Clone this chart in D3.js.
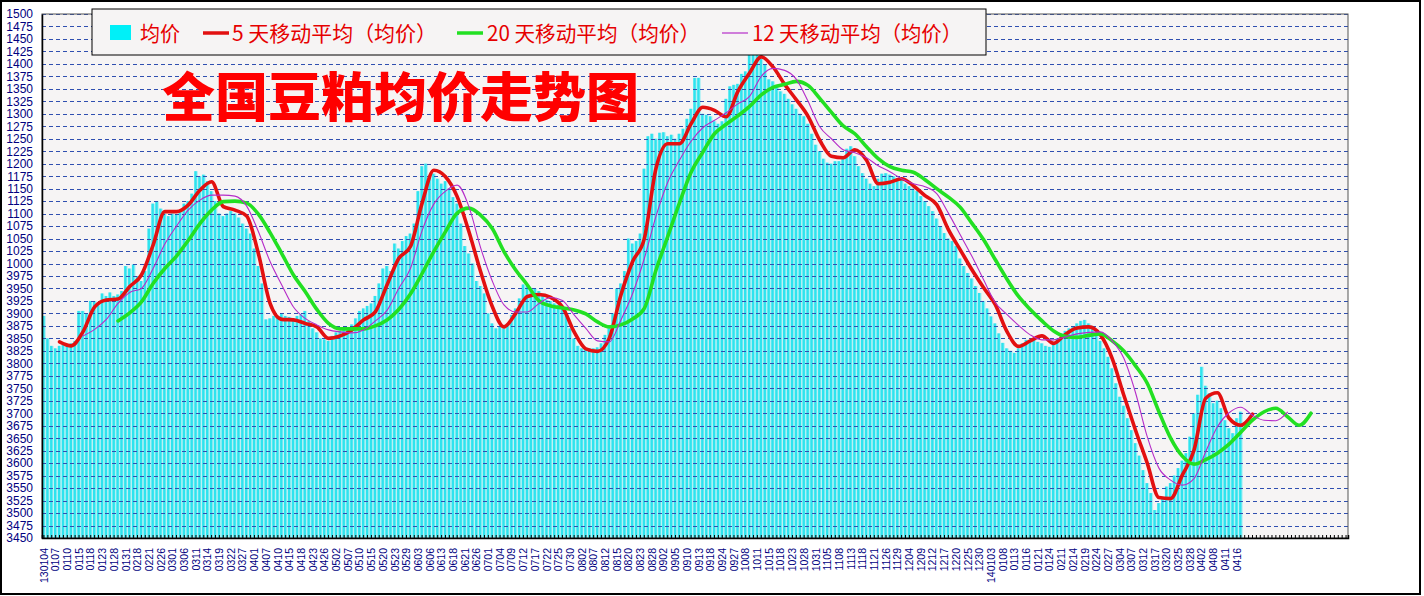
<!DOCTYPE html>
<html><head><meta charset="utf-8">
<script src="https://cdn.jsdelivr.net/npm/d3@7/dist/d3.min.js"></script>
<style>body{margin:0;background:#fff}svg{display:block}</style>
</head><body>
<svg id="c" width="1424" height="596"></svg>
<script>
// ---------- data ----------
const xLabels = ["130104","0107","0110","0115","0118","0123","0128","0131","0218","0221","0226","0301","0306","0311","0314","0319","0322","0327","0401","0407","0410","0415","0418","0423","0426","0502","0507","0510","0515","0520","0523","0529","0603","0606","0613","0618","0621","0626","0701","0704","0709","0712","0717","0722","0725","0730","0802","0807","0812","0815","0820","0823","0828","0902","0905","0910","0913","0918","0924","0927","1008","1011","1015","1018","1023","1028","1031","1105","1108","1113","1118","1121","1126","1129","1204","1209","1212","1217","1220","1225","1230","140103","0108","0113","0116","0121","0124","0211","0214","0219","0224","0227","0304","0307","0312","0317","0320","0325","0328","0402","0408","0411","0416"];

const avgPrice = [
3895,3850,3835, 3830,3835,3838, 3835,3840,3845, 3905,3905,3900, 3925,3925,3920,
3940,3935,3942, 3935,3938,3945, 3995,3990,3998, 3975,3965,3985, 4070,4120,4125,
4110,4100,4095, 4100,4098,4105, 4120,4125,4140, 4185,4175,4178, 4165,4145,4125,
4100,4095,4100, 4105,4100,4092, 4080,4070,4060, 4030,3995,3960, 3888,3890,3895,
3895,3900,3895, 3893,3890,3895, 3898,3905,3885, 3870,3862,3850, 3848,3845,3855,
3862,3865,3868, 3872,3878,3890, 3905,3910,3915, 3920,3935,3960, 3990,3995,3985,
4040,4030,4045, 4055,4060,4080, 4145,4195,4200, 4175,4180,4170, 4160,4165,4150,
4133,4120,4080, 4035,4020,4000, 3965,3955,3940, 3900,3880,3870, 3873,3870,3880,
3897,3910,3930, 3958,3955,3950, 3950,3945,3935, 3927,3925,3920, 3917,3915,3900,
3870,3850,3835, 3830,3828,3830, 3830,3832,3840, 3857,3870,3900, 3950,3960,3985,
4050,4040,4045, 4060,4190,4255, 4260,4250,4262, 4263,4255,4258, 4250,4260,4270,
4290,4310,4372, 4372,4300,4298, 4295,4285,4280, 4285,4330,4355, 4358,4360,4380,
4385,4418,4420, 4420,4410,4399, 4369,4365,4355, 4345,4340,4330, 4319,4310,4300,
4295,4280,4260, 4238,4225,4210, 4202,4200,4205, 4205,4215,4230, 4235,4215,4195,
4181,4170,4160, 4155,4170,4180, 4181,4178,4175, 4171,4168,4160, 4155,4150,4145,
4135,4125,4115, 4105,4090,4075, 4061,4050,4045, 4035,4010,3995, 3981,3970,3955,
3941,3925,3910, 3894,3880,3860, 3841,3830,3825, 3821,3830,3840, 3847,3845,3850,
3843,3840,3835, 3833,3840,3850, 3860,3865,3870, 3873,3880,3885, 3887,3880,3875,
3860,3845,3830, 3813,3790,3760, 3733,3715,3690, 3666,3640,3615, 3586,3560,3540,
3506,3520,3530, 3553,3560,3575, 3590,3605,3620, 3653,3700,3737, 3793,3755,3740,
3720,3725,3710, 3686,3670,3660, 3690,3703];

// moving averages read at every third category (categories 1, 4, 7, ...)
const ma5 = [null,3843,3835,3863,3913,3927,3929,3954,3977,4037,4104,4104,4117,4147,4164,4114,4107,4095,4020,3920,
3888,3887,3880,3873,3850,3855,3867,3887,3903,3957,4010,4034,4121,4187,4174,4134,4064,3984,3914,3873,
3900,3934,3938,3932,3913,3863,3829,3824,3850,3937,4004,4050,4191,4240,4240,4280,4313,4307,4294,4345,
4382,4414,4394,4359,4328,4295,4247,4215,4212,4228,4207,4160,4163,4170,4156,4136,4118,4068,4028,3988,
3952,3918,3864,3834,3845,3855,3840,3858,3871,3873,3857,3810,3736,3666,3600,3531,3529,3576,3626,3730,
3741,3690,3676,3698];
const ma20 = [null,null,null,null,null,null,3885,3901,3923,3960,3990,4015,4046,4080,4107,4124,4125,4121,4099,4062,
4020,3977,3944,3908,3880,3869,3869,3869,3875,3887,3908,3939,3980,4024,4064,4101,4111,4097,4070,4024,
3987,3957,3925,3915,3911,3907,3899,3883,3873,3877,3889,3910,3987,4054,4121,4183,4223,4260,4279,4296,
4315,4338,4353,4359,4365,4357,4331,4303,4276,4260,4234,4210,4194,4187,4183,4168,4150,4133,4113,4081,
4048,4008,3969,3934,3908,3885,3865,3854,3852,3856,3859,3845,3825,3795,3760,3703,3650,3614,3598,3607,
3620,3638,3662,3686,3703,3710,3693,3676,3700];
const ma12 = [null,null,null,3855,3868,3888,3920,3942,3950,3990,4039,4075,4107,4127,4137,4137,4135,4115,4064,4004,
3957,3913,3890,3877,3867,3863,3861,3867,3885,3906,3950,3990,4066,4119,4145,4157,4114,4032,3965,3917,
3903,3903,3920,3932,3926,3897,3870,3845,3843,3887,3940,4010,4095,4163,4207,4245,4272,4287,4302,4320,
4335,4375,4391,4387,4369,4325,4274,4250,4228,4222,4212,4196,4184,4170,4160,4154,4140,4101,4058,4015,
3968,3922,3898,3876,3857,3847,3847,3853,3859,3862,3863,3845,3810,3741,3653,3590,3566,3556,3569,3623,
3673,3701,3712,3696,3686,3685,3702];

const categoryCount = 335;
const yTicks = d3.range(3450, 4501, 25);
const seriesNames = ["均价", "5 天移动平均（均价）", "20 天移动平均（均价）", "12 天移动平均（均价）"];
const titleText = "全国豆粕均价走势图";

// ---------- layout ----------
const svg = d3.select("#c");
const L = 42, R = 1348, T = 14, B = 538;
const xs = d3.scaleBand().domain(d3.range(categoryCount)).range([L, R]).padding(0);
const ys = d3.scaleLinear().domain([3450, 4500]).range([B, T]);
const bw = xs.bandwidth();

svg.append("rect").attr("x", 1).attr("y", 1).attr("width", 1419).attr("height", 593)
  .attr("fill", "#fff").attr("stroke", "#000").attr("stroke-width", 2);
svg.append("rect").attr("x", L).attr("y", T).attr("width", R - L).attr("height", B - T)
  .attr("fill", "#f6f4f4");

// bars
const barG = svg.append("g");
barG.selectAll("rect.p").data(avgPrice).join("rect").attr("class", "p")
  .attr("x", (d, i) => xs(i)).attr("width", bw)
  .attr("y", d => ys(d)).attr("height", d => B - ys(d)).attr("fill", "#b3f0f4");
barG.selectAll("rect.v").data(avgPrice).join("rect").attr("class", "v")
  .attr("x", (d, i) => xs(i) + 0.3).attr("width", bw * 0.62)
  .attr("y", d => ys(d)).attr("height", d => B - ys(d)).attr("fill", "#2ee3ee");

// gridlines
svg.append("g").selectAll("line").data(yTicks).join("line")
  .attr("x1", L).attr("x2", R).attr("y1", d => Math.round(ys(d)) + 0.5).attr("y2", d => Math.round(ys(d)) + 0.5)
  .attr("stroke", "#2f4fb0").attr("stroke-width", 1).attr("stroke-dasharray", "4,3");

// lines
function drawLine(arr, color, width) {
  const pts = arr.map((v, k) => ({ i: 3 * k + 1, v }));
  const line = d3.line().defined(d => d.v != null)
    .x(d => xs(d.i) + bw / 2).y(d => ys(d.v)).curve(d3.curveMonotoneX);
  svg.append("path").datum(pts).attr("d", line).attr("fill", "none")
    .attr("stroke", color).attr("stroke-width", width).attr("stroke-linejoin", "round").attr("stroke-linecap", "round");
}
drawLine(ma5, "#e21010", 3.6);
drawLine(ma20, "#22e022", 3.6);
drawLine(ma12, "#b52cc8", 1.1);

// frame
svg.append("rect").attr("x", L).attr("y", T).attr("width", R - L).attr("height", B - T)
  .attr("fill", "none").attr("stroke", "#555").attr("stroke-width", 1);

// axes
const yAxis = d3.axisLeft(ys).tickValues(yTicks).tickSize(0).tickPadding(9)
  .tickFormat(v => v >= 4000 ? "1" + String(v).slice(1) : String(v));
const yg = svg.append("g").attr("transform", `translate(${L},0)`).call(yAxis);
yg.select(".domain").attr("stroke", "#000").attr("stroke-width", 1.5);
yg.selectAll("text").attr("fill", "#00007f").style("font-family", "Liberation Sans, Arial, sans-serif").style("font-size", "12px");

const xAxis = d3.axisBottom(xs).tickValues(d3.range(categoryCount)).tickSize(-3).tickPadding(0)
  .tickFormat(i => (i % 3 === 0 && i / 3 < xLabels.length) ? xLabels[i / 3] : "");
const xg = svg.append("g").attr("transform", `translate(0,${B})`).call(xAxis);
xg.select(".domain").attr("stroke", "#000").attr("stroke-width", 1.5);
xg.selectAll(".tick line").attr("stroke", "#000");
xg.selectAll("text").attr("fill", "#00007f")
  .style("font-family", "Liberation Sans, Arial, sans-serif").style("font-size", "10.5px")
  .attr("transform", "rotate(-90)").attr("x", -10).attr("y", 0).attr("dy", "0.35em")
  .style("text-anchor", "end");

// title
svg.append("text").attr("x", 162).attr("y", 117).text(titleText)
  .attr("fill", "#ff0000").style("font-family", "Noto Sans CJK SC, sans-serif")
  .style("font-size", "53px").style("font-weight", 900);

// legend
const lg = svg.append("g");
lg.append("rect").attr("x", 92).attr("y", 9).attr("width", 894).attr("height", 46)
  .attr("fill", "#f6f4f4").attr("stroke", "#000").attr("stroke-width", 1);
lg.append("rect").attr("x", 110).attr("y", 25).attr("width", 21).attr("height", 15).attr("fill", "#00f0f8");
const legendItems = [
  { name: seriesNames[0], tx: 140, len: 40 },
  { name: seriesNames[1], tx: 232, len: 205, sx: 203, color: "#e21010", w: 3.5 },
  { name: seriesNames[2], tx: 487, len: 213, sx: 457, color: "#22e022", w: 3.5 },
  { name: seriesNames[3], tx: 752, len: 210, sx: 722, color: "#b52cc8", w: 1.2 }
];
legendItems.forEach(it => {
  if (it.sx != null) lg.append("line").attr("x1", it.sx).attr("x2", it.sx + 26).attr("y1", 33).attr("y2", 33)
    .attr("stroke", it.color).attr("stroke-width", it.w);
  lg.append("text").attr("x", it.tx).attr("y", 41).text(it.name)
    .attr("textLength", it.len).attr("lengthAdjust", "spacingAndGlyphs")
    .attr("fill", "#e60000").style("font-family", "Noto Sans CJK SC, sans-serif").style("font-size", "21px");
});
</script>
</body></html>
